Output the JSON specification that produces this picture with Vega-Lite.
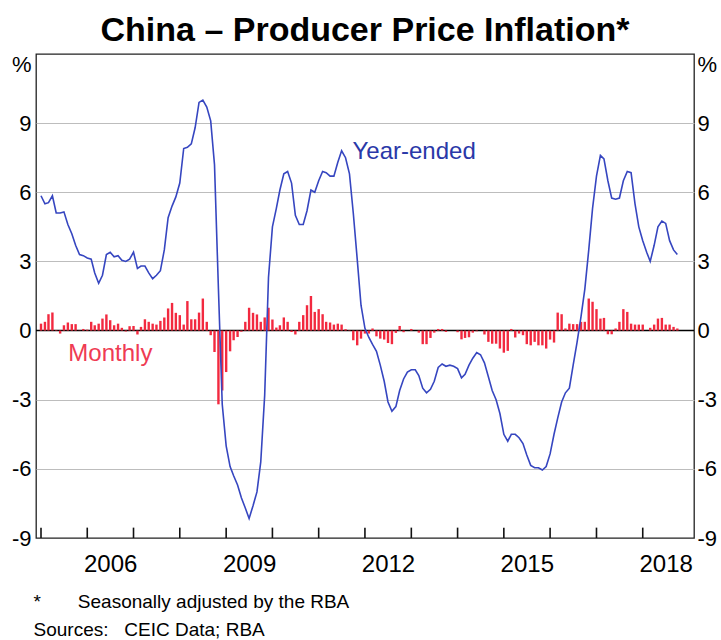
{
  "$schema": "https://vega.github.io/schema/vega-lite/v6.json",
  "width": 658,
  "height": 484,
  "autosize": {"type": "none"},
  "padding": {"left": 36, "top": 54, "right": 27, "bottom": 102},
  "config": {
    "view": {"stroke": "#222222", "strokeWidth": 1.3},
    "font": "Liberation Sans"
  },
  "title": {
    "text": "China – Producer Price Inflation*",
    "font": "Liberation Sans",
    "fontSize": 34,
    "fontWeight": "bold",
    "color": "#000000",
    "anchor": "middle",
    "frame": "group",
    "offset": 5
  },
  "datasets": {
    "ppi": [
      {"date": "2005-01-01", "ye": 5.85, "mo": 0.3},
      {"date": "2005-02-01", "ye": 5.5, "mo": 0.38},
      {"date": "2005-03-01", "ye": 5.55, "mo": 0.71},
      {"date": "2005-04-01", "ye": 5.85, "mo": 0.78},
      {"date": "2005-05-01", "ye": 5.1, "mo": 0.02},
      {"date": "2005-06-01", "ye": 5.1, "mo": -0.13},
      {"date": "2005-07-01", "ye": 5.15, "mo": 0.23},
      {"date": "2005-08-01", "ye": 4.6, "mo": 0.35},
      {"date": "2005-09-01", "ye": 4.2, "mo": 0.28},
      {"date": "2005-10-01", "ye": 3.7, "mo": 0.28},
      {"date": "2005-11-01", "ye": 3.3, "mo": 0.01},
      {"date": "2005-12-01", "ye": 3.25, "mo": 0.07},
      {"date": "2006-01-01", "ye": 3.15, "mo": 0.04},
      {"date": "2006-02-01", "ye": 3.1, "mo": 0.38},
      {"date": "2006-03-01", "ye": 2.5, "mo": 0.23},
      {"date": "2006-04-01", "ye": 2.05, "mo": 0.3},
      {"date": "2006-05-01", "ye": 2.4, "mo": 0.52},
      {"date": "2006-06-01", "ye": 3.3, "mo": 0.7},
      {"date": "2006-07-01", "ye": 3.4, "mo": 0.45},
      {"date": "2006-08-01", "ye": 3.2, "mo": 0.23},
      {"date": "2006-09-01", "ye": 3.25, "mo": 0.3},
      {"date": "2006-10-01", "ye": 3.05, "mo": 0.12},
      {"date": "2006-11-01", "ye": 3.0, "mo": -0.04},
      {"date": "2006-12-01", "ye": 3.1, "mo": 0.19},
      {"date": "2007-01-01", "ye": 3.4, "mo": 0.2},
      {"date": "2007-02-01", "ye": 2.7, "mo": -0.17},
      {"date": "2007-03-01", "ye": 2.8, "mo": 0.16},
      {"date": "2007-04-01", "ye": 2.8, "mo": 0.49},
      {"date": "2007-05-01", "ye": 2.5, "mo": 0.38},
      {"date": "2007-06-01", "ye": 2.25, "mo": 0.3},
      {"date": "2007-07-01", "ye": 2.4, "mo": 0.26},
      {"date": "2007-08-01", "ye": 2.6, "mo": 0.42},
      {"date": "2007-09-01", "ye": 3.5, "mo": 0.57},
      {"date": "2007-10-01", "ye": 4.9, "mo": 0.96},
      {"date": "2007-11-01", "ye": 5.4, "mo": 1.2},
      {"date": "2007-12-01", "ye": 5.8, "mo": 0.77},
      {"date": "2008-01-01", "ye": 6.4, "mo": 0.67},
      {"date": "2008-02-01", "ye": 7.9, "mo": 0.26},
      {"date": "2008-03-01", "ye": 7.95, "mo": 1.28},
      {"date": "2008-04-01", "ye": 8.1, "mo": 0.49},
      {"date": "2008-05-01", "ye": 8.8, "mo": 0.49},
      {"date": "2008-06-01", "ye": 9.9, "mo": 0.78},
      {"date": "2008-07-01", "ye": 10.0, "mo": 1.39},
      {"date": "2008-08-01", "ye": 9.7, "mo": 0.38},
      {"date": "2008-09-01", "ye": 9.1, "mo": -0.2},
      {"date": "2008-10-01", "ye": 7.2, "mo": -0.93},
      {"date": "2008-11-01", "ye": 1.8, "mo": -3.2},
      {"date": "2008-12-01", "ye": -3.2, "mo": -2.6},
      {"date": "2009-01-01", "ye": -5.0, "mo": -1.8},
      {"date": "2009-02-01", "ye": -5.9, "mo": -0.9},
      {"date": "2009-03-01", "ye": -6.3, "mo": -0.42},
      {"date": "2009-04-01", "ye": -6.7, "mo": -0.28},
      {"date": "2009-05-01", "ye": -7.25, "mo": -0.05},
      {"date": "2009-06-01", "ye": -7.7, "mo": 0.38},
      {"date": "2009-07-01", "ye": -8.15, "mo": 0.99},
      {"date": "2009-08-01", "ye": -7.6, "mo": 0.77},
      {"date": "2009-09-01", "ye": -7.0, "mo": 0.7},
      {"date": "2009-10-01", "ye": -5.7, "mo": 0.38},
      {"date": "2009-11-01", "ye": -2.8, "mo": 0.57},
      {"date": "2009-12-01", "ye": 2.3, "mo": 0.99},
      {"date": "2010-01-01", "ye": 4.5, "mo": 0.48},
      {"date": "2010-02-01", "ye": 5.3, "mo": 0.13},
      {"date": "2010-03-01", "ye": 6.1, "mo": 0.23},
      {"date": "2010-04-01", "ye": 6.8, "mo": 0.57},
      {"date": "2010-05-01", "ye": 6.9, "mo": 0.38},
      {"date": "2010-06-01", "ye": 6.4, "mo": -0.06},
      {"date": "2010-07-01", "ye": 5.0, "mo": -0.17},
      {"date": "2010-08-01", "ye": 4.6, "mo": 0.38},
      {"date": "2010-09-01", "ye": 4.6, "mo": 0.67},
      {"date": "2010-10-01", "ye": 5.2, "mo": 1.1},
      {"date": "2010-11-01", "ye": 6.1, "mo": 1.5},
      {"date": "2010-12-01", "ye": 6.0, "mo": 0.81},
      {"date": "2011-01-01", "ye": 6.5, "mo": 0.93},
      {"date": "2011-02-01", "ye": 6.9, "mo": 0.71},
      {"date": "2011-03-01", "ye": 6.85, "mo": 0.38},
      {"date": "2011-04-01", "ye": 6.7, "mo": 0.35},
      {"date": "2011-05-01", "ye": 6.7, "mo": 0.26},
      {"date": "2011-06-01", "ye": 7.3, "mo": 0.3},
      {"date": "2011-07-01", "ye": 7.8, "mo": 0.26},
      {"date": "2011-08-01", "ye": 7.5, "mo": 0.06},
      {"date": "2011-09-01", "ye": 6.8, "mo": -0.02},
      {"date": "2011-10-01", "ye": 5.1, "mo": -0.42},
      {"date": "2011-11-01", "ye": 3.1, "mo": -0.64},
      {"date": "2011-12-01", "ye": 1.1, "mo": -0.35},
      {"date": "2012-01-01", "ye": 0.1, "mo": -0.13},
      {"date": "2012-02-01", "ye": -0.3, "mo": -0.13},
      {"date": "2012-03-01", "ye": -0.6, "mo": 0.09},
      {"date": "2012-04-01", "ye": -0.9, "mo": -0.25},
      {"date": "2012-05-01", "ye": -1.5, "mo": -0.35},
      {"date": "2012-06-01", "ye": -2.2, "mo": -0.39},
      {"date": "2012-07-01", "ye": -3.1, "mo": -0.54},
      {"date": "2012-08-01", "ye": -3.5, "mo": -0.59},
      {"date": "2012-09-01", "ye": -3.3, "mo": -0.1},
      {"date": "2012-10-01", "ye": -2.6, "mo": 0.2},
      {"date": "2012-11-01", "ye": -2.1, "mo": -0.07},
      {"date": "2012-12-01", "ye": -1.8, "mo": 0.0},
      {"date": "2013-01-01", "ye": -1.7, "mo": 0.07},
      {"date": "2013-02-01", "ye": -1.7, "mo": 0.0},
      {"date": "2013-03-01", "ye": -1.95, "mo": -0.09},
      {"date": "2013-04-01", "ye": -2.5, "mo": -0.59},
      {"date": "2013-05-01", "ye": -2.7, "mo": -0.59},
      {"date": "2013-06-01", "ye": -2.55, "mo": -0.32},
      {"date": "2013-07-01", "ye": -2.2, "mo": -0.09},
      {"date": "2013-08-01", "ye": -1.6, "mo": 0.07},
      {"date": "2013-09-01", "ye": -1.45, "mo": 0.07},
      {"date": "2013-10-01", "ye": -1.55, "mo": -0.06},
      {"date": "2013-11-01", "ye": -1.5, "mo": 0.0},
      {"date": "2013-12-01", "ye": -1.55, "mo": 0.0},
      {"date": "2014-01-01", "ye": -1.65, "mo": -0.07},
      {"date": "2014-02-01", "ye": -2.05, "mo": -0.38},
      {"date": "2014-03-01", "ye": -1.9, "mo": -0.32},
      {"date": "2014-04-01", "ye": -1.5, "mo": -0.29},
      {"date": "2014-05-01", "ye": -1.2, "mo": -0.09},
      {"date": "2014-06-01", "ye": -0.95, "mo": -0.03},
      {"date": "2014-07-01", "ye": -1.05, "mo": 0.0},
      {"date": "2014-08-01", "ye": -1.4, "mo": -0.17},
      {"date": "2014-09-01", "ye": -2.0, "mo": -0.49},
      {"date": "2014-10-01", "ye": -2.6, "mo": -0.57},
      {"date": "2014-11-01", "ye": -3.0, "mo": -0.57},
      {"date": "2014-12-01", "ye": -3.6, "mo": -0.78},
      {"date": "2015-01-01", "ye": -4.5, "mo": -0.96},
      {"date": "2015-02-01", "ye": -4.8, "mo": -0.88},
      {"date": "2015-03-01", "ye": -4.5, "mo": 0.07},
      {"date": "2015-04-01", "ye": -4.5, "mo": -0.3},
      {"date": "2015-05-01", "ye": -4.65, "mo": -0.13},
      {"date": "2015-06-01", "ye": -4.9, "mo": -0.2},
      {"date": "2015-07-01", "ye": -5.4, "mo": -0.59},
      {"date": "2015-08-01", "ye": -5.85, "mo": -0.64},
      {"date": "2015-09-01", "ye": -5.95, "mo": -0.49},
      {"date": "2015-10-01", "ye": -5.95, "mo": -0.64},
      {"date": "2015-11-01", "ye": -6.05, "mo": -0.64},
      {"date": "2015-12-01", "ye": -5.9, "mo": -0.78},
      {"date": "2016-01-01", "ye": -5.35, "mo": -0.39},
      {"date": "2016-02-01", "ye": -4.5, "mo": -0.52},
      {"date": "2016-03-01", "ye": -3.8, "mo": 0.78},
      {"date": "2016-04-01", "ye": -3.1, "mo": 0.71},
      {"date": "2016-05-01", "ye": -2.7, "mo": 0.09},
      {"date": "2016-06-01", "ye": -2.5, "mo": 0.3},
      {"date": "2016-07-01", "ye": -1.5, "mo": 0.28},
      {"date": "2016-08-01", "ye": -0.5, "mo": 0.28},
      {"date": "2016-09-01", "ye": 0.6, "mo": 0.38},
      {"date": "2016-10-01", "ye": 1.8, "mo": 0.38},
      {"date": "2016-11-01", "ye": 3.5, "mo": 1.39},
      {"date": "2016-12-01", "ye": 5.3, "mo": 1.25},
      {"date": "2017-01-01", "ye": 6.7, "mo": 0.93},
      {"date": "2017-02-01", "ye": 7.6, "mo": 0.52},
      {"date": "2017-03-01", "ye": 7.45, "mo": 0.55},
      {"date": "2017-04-01", "ye": 6.5, "mo": -0.16},
      {"date": "2017-05-01", "ye": 5.75, "mo": -0.16},
      {"date": "2017-06-01", "ye": 5.7, "mo": 0.09},
      {"date": "2017-07-01", "ye": 5.75, "mo": 0.38},
      {"date": "2017-08-01", "ye": 6.5, "mo": 0.93},
      {"date": "2017-09-01", "ye": 6.9, "mo": 0.81},
      {"date": "2017-10-01", "ye": 6.85, "mo": 0.3},
      {"date": "2017-11-01", "ye": 5.5, "mo": 0.26},
      {"date": "2017-12-01", "ye": 4.5, "mo": 0.26},
      {"date": "2018-01-01", "ye": 3.9, "mo": 0.26},
      {"date": "2018-02-01", "ye": 3.4, "mo": 0.0},
      {"date": "2018-03-01", "ye": 3.0, "mo": 0.12},
      {"date": "2018-04-01", "ye": 3.7, "mo": 0.26},
      {"date": "2018-05-01", "ye": 4.5, "mo": 0.52},
      {"date": "2018-06-01", "ye": 4.75, "mo": 0.55},
      {"date": "2018-07-01", "ye": 4.65, "mo": 0.26},
      {"date": "2018-08-01", "ye": 3.9, "mo": 0.26},
      {"date": "2018-09-01", "ye": 3.5, "mo": 0.16},
      {"date": "2018-10-01", "ye": 3.3, "mo": 0.09}
    ]
  },
  "resolve": {
    "scale": {"x": "shared", "y": "shared"},
    "axis": {"x": "independent", "y": "independent"}
  },
  "layer": [
    {
      "data": {"values": [{}]},
      "mark": {"type": "rule", "color": "#000000", "strokeWidth": 1.5},
      "encoding": {
        "y": {"datum": 0, "type": "quantitative", "axis": null}
      }
    },
    {
      "data": {"name": "ppi"},
      "mark": {"type": "bar", "color": "#f2293f", "size": 2.4, "clip": true},
      "encoding": {
        "x": {
          "field": "date",
          "type": "temporal",
          "scale": {
            "type": "utc",
            "domain": [
              {"year": 2005, "month": 1, "date": 1, "utc": true},
              {"year": 2019, "month": 1, "date": 1, "utc": true}
            ]
          },
          "axis": {
            "orient": "bottom",
            "values": [
              {"year": 2006, "month": 7, "date": 1, "utc": true},
              {"year": 2009, "month": 7, "date": 1, "utc": true},
              {"year": 2012, "month": 7, "date": 1, "utc": true},
              {"year": 2015, "month": 7, "date": 1, "utc": true},
              {"year": 2018, "month": 7, "date": 1, "utc": true}
            ],
            "format": "%Y",
            "ticks": false,
            "domain": false,
            "grid": false,
            "labelFont": "Liberation Sans",
            "labelFontSize": 24,
            "labelColor": "#000000",
            "labelPadding": 14,
            "labelOverlap": false,
            "labelFlush": false,
            "title": ["*\u00a0\u00a0\u00a0\u00a0\u00a0\u00a0\u00a0Seasonally adjusted by the RBA", "Sources:\u00a0\u00a0\u00a0CEIC Data; RBA"],
            "titleFont": "Liberation Sans",
            "titleFontSize": 19,
            "titleFontWeight": "normal",
            "titleColor": "#000000",
            "titleAlign": "left",
            "titleBaseline": "top",
            "titleAnchor": "start",
            "titleX": -3,
            "titleY": 54,
            "titleLineHeight": 28.5
          }
        },
        "y": {
          "field": "mo",
          "type": "quantitative",
          "scale": {"domain": [-9, 12], "nice": false, "zero": false},
          "axis": {
            "orient": "left",
            "values": [-9, -6, -3, 0, 3, 6, 9, 11.55],
            "labelExpr": "datum.value > 10 ? '%' : (datum.value < 0 ? '-' + abs(datum.value) : '' + datum.value)",
            "ticks": false,
            "domain": false,
            "grid": true,
            "gridColor": "#bdbdbd",
            "gridWidth": 1.2,
            "gridOpacity": {"condition": {"test": "datum.value > 10 || datum.value == -9 || datum.value == 0", "value": 0}, "value": 1},
            "labelFont": "Liberation Sans",
            "labelFontSize": 22,
            "labelColor": "#000000",
            "labelPadding": 5,
            "labelOverlap": false,
            "labelFlush": false,
            "title": null
          }
        }
      }
    },
    {
      "data": {"name": "ppi"},
      "transform": [{"filter": {"timeUnit": "utcmonth", "field": "date", "equal": {"month": 1}}}],
      "mark": {"type": "rule", "color": "#111111", "strokeWidth": 1.6},
      "encoding": {
        "x": {"field": "date", "type": "temporal", "axis": null},
        "y": {"datum": -9, "type": "quantitative", "axis": null},
        "y2": {"datum": -8.55}
      }
    },
    {
      "data": {"name": "ppi"},
      "mark": {"type": "line", "color": "#3646c0", "strokeWidth": 1.6, "clip": true},
      "encoding": {
        "x": {"field": "date", "type": "temporal", "axis": null},
        "y": {
          "field": "ye",
          "type": "quantitative",
          "axis": {
            "orient": "right",
            "values": [-9, -6, -3, 0, 3, 6, 9, 11.55],
            "labelExpr": "datum.value > 10 ? '%' : (datum.value < 0 ? '-' + abs(datum.value) : '' + datum.value)",
            "ticks": false,
            "domain": false,
            "grid": false,
            "labelFont": "Liberation Sans",
            "labelFontSize": 22,
            "labelColor": "#000000",
            "labelPadding": 3,
            "labelOverlap": false,
            "labelFlush": false,
            "title": null
          }
        }
      }
    },
    {
      "data": {"values": [{}]},
      "mark": {"type": "text", "font": "Liberation Sans", "fontSize": 24, "color": "#2a38a8", "align": "left", "baseline": "middle"},
      "encoding": {
        "x": {"datum": {"year": 2011, "month": 9, "date": 25, "utc": true}, "type": "temporal", "axis": null},
        "y": {"datum": 7.75, "type": "quantitative", "axis": null},
        "text": {"value": "Year-ended"}
      }
    },
    {
      "data": {"values": [{}]},
      "mark": {"type": "text", "font": "Liberation Sans", "fontSize": 24, "color": "#ef3b53", "align": "left", "baseline": "middle"},
      "encoding": {
        "x": {"datum": {"year": 2005, "month": 8, "date": 5, "utc": true}, "type": "temporal", "axis": null},
        "y": {"datum": -1.02, "type": "quantitative", "axis": null},
        "text": {"value": "Monthly"}
      }
    }
  ]
}
